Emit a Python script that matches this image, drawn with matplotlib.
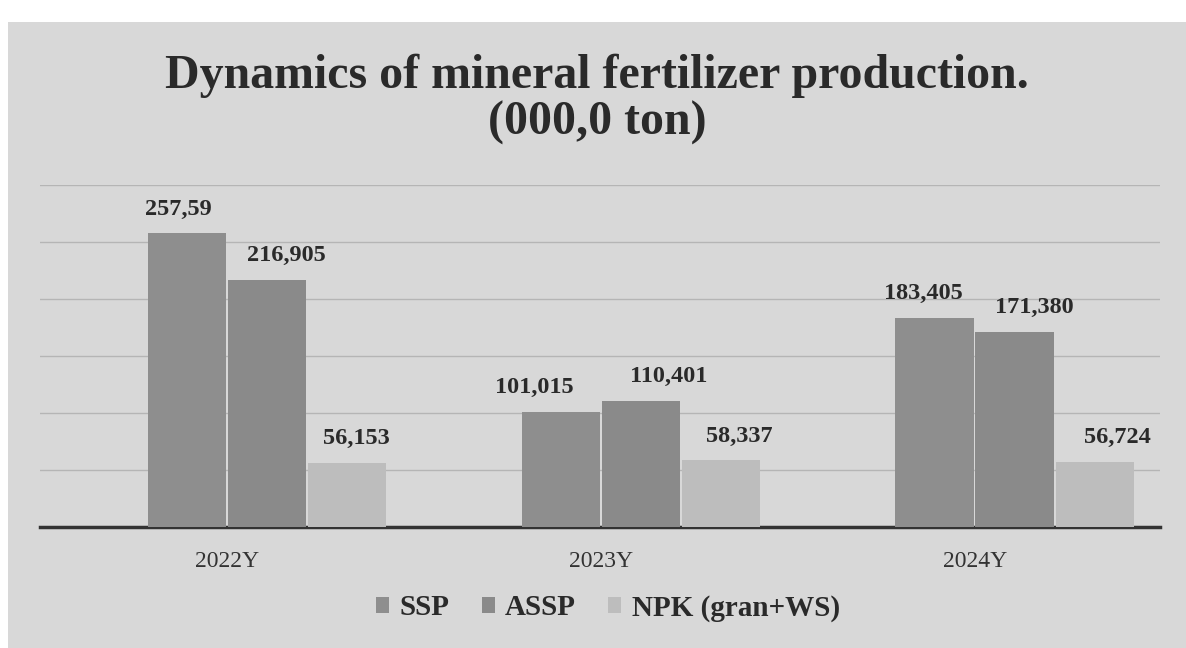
import matplotlib.pyplot as plt
import matplotlib.transforms as mtransforms
import numpy as np
from matplotlib.patches import Rectangle

years = ["2022Y", "2023Y", "2024Y"]
series_names = ["SSP", "ASSP", "NPK (gran+WS)"]
ssp = [257.59, 101.015, 183.405]
assp = [216.905, 110.401, 171.380]
npk = [56.153, 58.337, 56.724]
labels = [
    ["257,59", "101,015", "183,405"],
    ["216,905", "110,401", "171,380"],
    ["56,153", "58,337", "56,724"],
]
colors = ["#8e8e8e", "#8a8a8a", "#bdbdbd"]
# horizontal nudges of the value labels (points), as placed in the original
label_dx = [[-6, -19, -8], [14, 20, 14], [7, 13, 16]]

plt.rcParams["font.family"] = ["Liberation Serif", "DejaVu Serif"]

fig = plt.figure(figsize=(11.86, 6.48), dpi=100)
fig.patch.set_facecolor("white")
fig.patches.append(Rectangle((8 / 1186, 0), 1, 1 - 22 / 648, transform=fig.transFigure,
                             facecolor="#d8d8d8", edgecolor="none", zorder=-10))

W, H = 1186, 648
ax = fig.add_axes([40 / W, (H - 527) / H, 1120 / W, 342 / H])
ax.set_facecolor("none")

x = np.arange(len(years))
width = 0.214
for i, (vals, name) in enumerate(zip([ssp, assp, npk], series_names)):
    bars = ax.bar(x + (i - 1) * width, vals, width=width * 0.985, color=colors[i],
                  label=name, zorder=3)
    for j, (b, lab) in enumerate(zip(bars, labels[i])):
        ax.annotate(lab, (b.get_x() + b.get_width() / 2, b.get_height()),
                    xytext=(label_dx[i][j], 10), textcoords="offset points",
                    ha="center", va="bottom", fontsize=17.5, fontweight="bold",
                    color="#2a2a2a")

ax.set_xlim(-0.607, 2.388)
ax.set_ylim(0, 300)
ax.set_yticks(np.arange(50, 301, 50))
ax.yaxis.grid(True, color="#b5b5b5", lw=1)
ax.tick_params(left=False, labelleft=False, bottom=False)
ax.set_xticks(x)
ax.set_xticklabels(years, fontsize=17, color="#333333")
ax.tick_params(axis="x", pad=14)
shift = mtransforms.ScaledTranslation(-40 / 100, 0, fig.dpi_scale_trans)
for t in ax.get_xticklabels():
    t.set_transform(t.get_transform() + shift)
for s in ["top", "right", "left"]:
    ax.spines[s].set_visible(False)
ax.spines["bottom"].set_color("#333333")
ax.spines["bottom"].set_linewidth(2.5)

fig.text(597 / W, 1 - 99 / H, "Dynamics of mineral fertilizer production.\n(000,0 ton)",
         ha="center", va="center", fontsize=34.5, fontweight="bold", color="#2a2a2a",
         linespacing=1.08)

fig.legend(loc="center", bbox_to_anchor=(608 / W, 1 - 608 / H), ncol=3, frameon=False,
           prop={"size": 21, "weight": "bold"}, handlelength=0.45, handleheight=0.45,
           columnspacing=1.1, handletextpad=0.35, labelcolor="#2a2a2a")

fig.savefig("out.png", dpi=100)
